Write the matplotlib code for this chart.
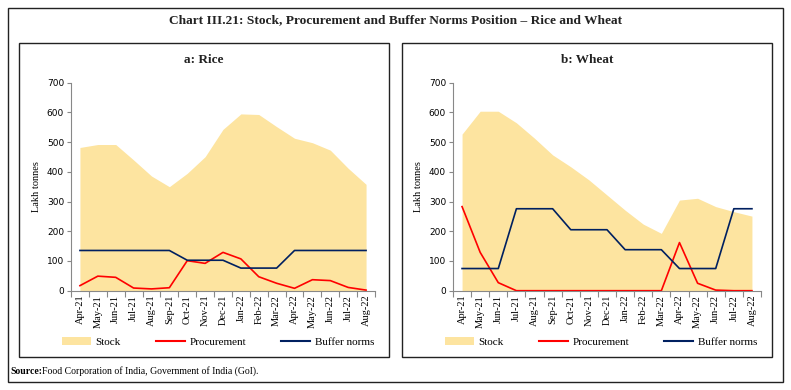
import matplotlib.pyplot as plt
from matplotlib.patches import Rectangle
from matplotlib.lines import Line2D
from matplotlib.patches import Patch
import numpy as np

months = ["Apr-21", "May-21", "Jun-21", "Jul-21", "Aug-21", "Sep-21", "Oct-21", "Nov-21",
          "Dec-21", "Jan-22", "Feb-22", "Mar-22", "Apr-22", "May-22", "Jun-22", "Jul-22", "Aug-22"]

rice_stock = [482, 492, 492, 440, 386, 350, 395, 451, 543, 595, 593, 552, 513, 498, 473, 412, 358]
rice_proc = [17, 49, 45, 9, 6, 10, 101, 92, 129, 107, 47, 25, 8, 37, 34, 11, 2]
rice_buffer = [135.4, 135.4, 135.4, 135.4, 135.4, 135.4, 102.5, 102.5, 102.5, 76.1, 76.1, 76.1,
               135.4, 135.4, 135.4, 135.4, 135.4]

wheat_stock = [527, 604, 604, 565, 513, 457, 417, 373, 322, 271, 224, 193, 305, 311, 283, 266, 251]
wheat_proc = [283, 129, 27, 0, 0, 0, 0, 0, 0, 0, 0, 0, 162, 25, 2, 0, 0]
wheat_buffer = [74.6, 74.6, 74.6, 275.8, 275.8, 275.8, 205.2, 205.2, 205.2, 138.0, 138.0, 138.0,
                74.6, 74.6, 74.6, 275.8, 275.8]

stock_col = "#FDE4A0"
proc_col = "#FF0000"
buf_col = "#002060"
serif = "Liberation Serif"

fig = plt.figure(figsize=(7.91, 3.90), dpi=100)
W, H = 791, 390


def fx(px):
    return px / W


def fy(py):
    return 1 - py / H


# outer frame and panel boxes
fig.patches.append(Rectangle((fx(8), fy(382)), fx(775), (374) / H, transform=fig.transFigure,
                             fill=False, lw=1.0, ec="#222222"))
for x0, x1 in [(19, 389), (402, 772)]:
    fig.patches.append(Rectangle((fx(x0), fy(357)), fx(x1 - x0), (357 - 43) / H,
                                 transform=fig.transFigure, fill=False, lw=1.0, ec="#222222"))

fig.text(0.5, fy(20), "Chart III.21: Stock, Procurement and Buffer Norms Position \u2013 Rice and Wheat",
         ha="center", va="center", fontsize=9.6, fontweight="bold", family=serif, color="#222222")
fig.text(fx(10), fy(371), "Source:", ha="left", va="center", fontsize=7, fontweight="bold", family=serif)
fig.text(fx(42), fy(371), "Food Corporation of India, Government of India (GoI).", ha="left",
         va="center", fontsize=7, family=serif)

panels = [
    ("a: Rice", rice_stock, rice_proc, rice_buffer, 71, 375, (19, 389)),
    ("b: Wheat", wheat_stock, wheat_proc, wheat_buffer, 453, 761, (402, 772)),
]

x = np.arange(len(months))
for title, stock, proc, buf, ax0, ax1, box in panels:
    ax = fig.add_axes([fx(ax0), fy(290.7), fx(ax1 - ax0), (290.7 - 82.7) / H])
    ax.fill_between(x, 0, stock, color=stock_col, lw=0)
    ax.plot(x, proc, color=proc_col, lw=1.2)
    ax.plot(x, buf, color=buf_col, lw=1.2)
    ax.set_xlim(-0.5, len(months) - 0.5)
    ax.set_ylim(0, 700)
    ax.set_yticks(range(0, 701, 100))
    ax.set_xticks(np.arange(-0.5, len(months), 1), minor=False)
    ax.set_xticklabels([])
    ax.set_xticks(x, minor=True)
    ax.set_xticklabels(months, minor=True, rotation=90, fontsize=7.5, family=serif)
    ax.tick_params(axis="x", which="minor", length=0, pad=3)
    ax.tick_params(axis="x", which="major", length=4, color="#888888")
    ax.tick_params(axis="y", length=3, color="#888888", labelsize=6.5, pad=2)
    for s in ["top", "right"]:
        ax.spines[s].set_visible(False)
    for s in ["left", "bottom"]:
        ax.spines[s].set_color("#888888")
    ax.set_ylabel("Lakh tonnes", family=serif, fontsize=7.5, labelpad=4)
    cx = (box[0] + box[1]) / 2
    fig.text(fx(cx), fy(60), title, ha="center", va="center", fontsize=9.5, fontweight="bold",
             family=serif, color="#222222")
    handles = [Patch(facecolor=stock_col, edgecolor="none"),
               Line2D([], [], color=proc_col, lw=1.5),
               Line2D([], [], color=buf_col, lw=1.5)]
    fig.legend(handles, ["Stock", "Procurement", "Buffer norms"], loc="center",
               bbox_to_anchor=(fx(cx + 14), fy(342)), ncol=3, frameon=False,
               prop={"family": serif, "size": 8}, handlelength=2.6, handletextpad=0.4,
               columnspacing=3.2)

fig.savefig("out.png", dpi=100)
